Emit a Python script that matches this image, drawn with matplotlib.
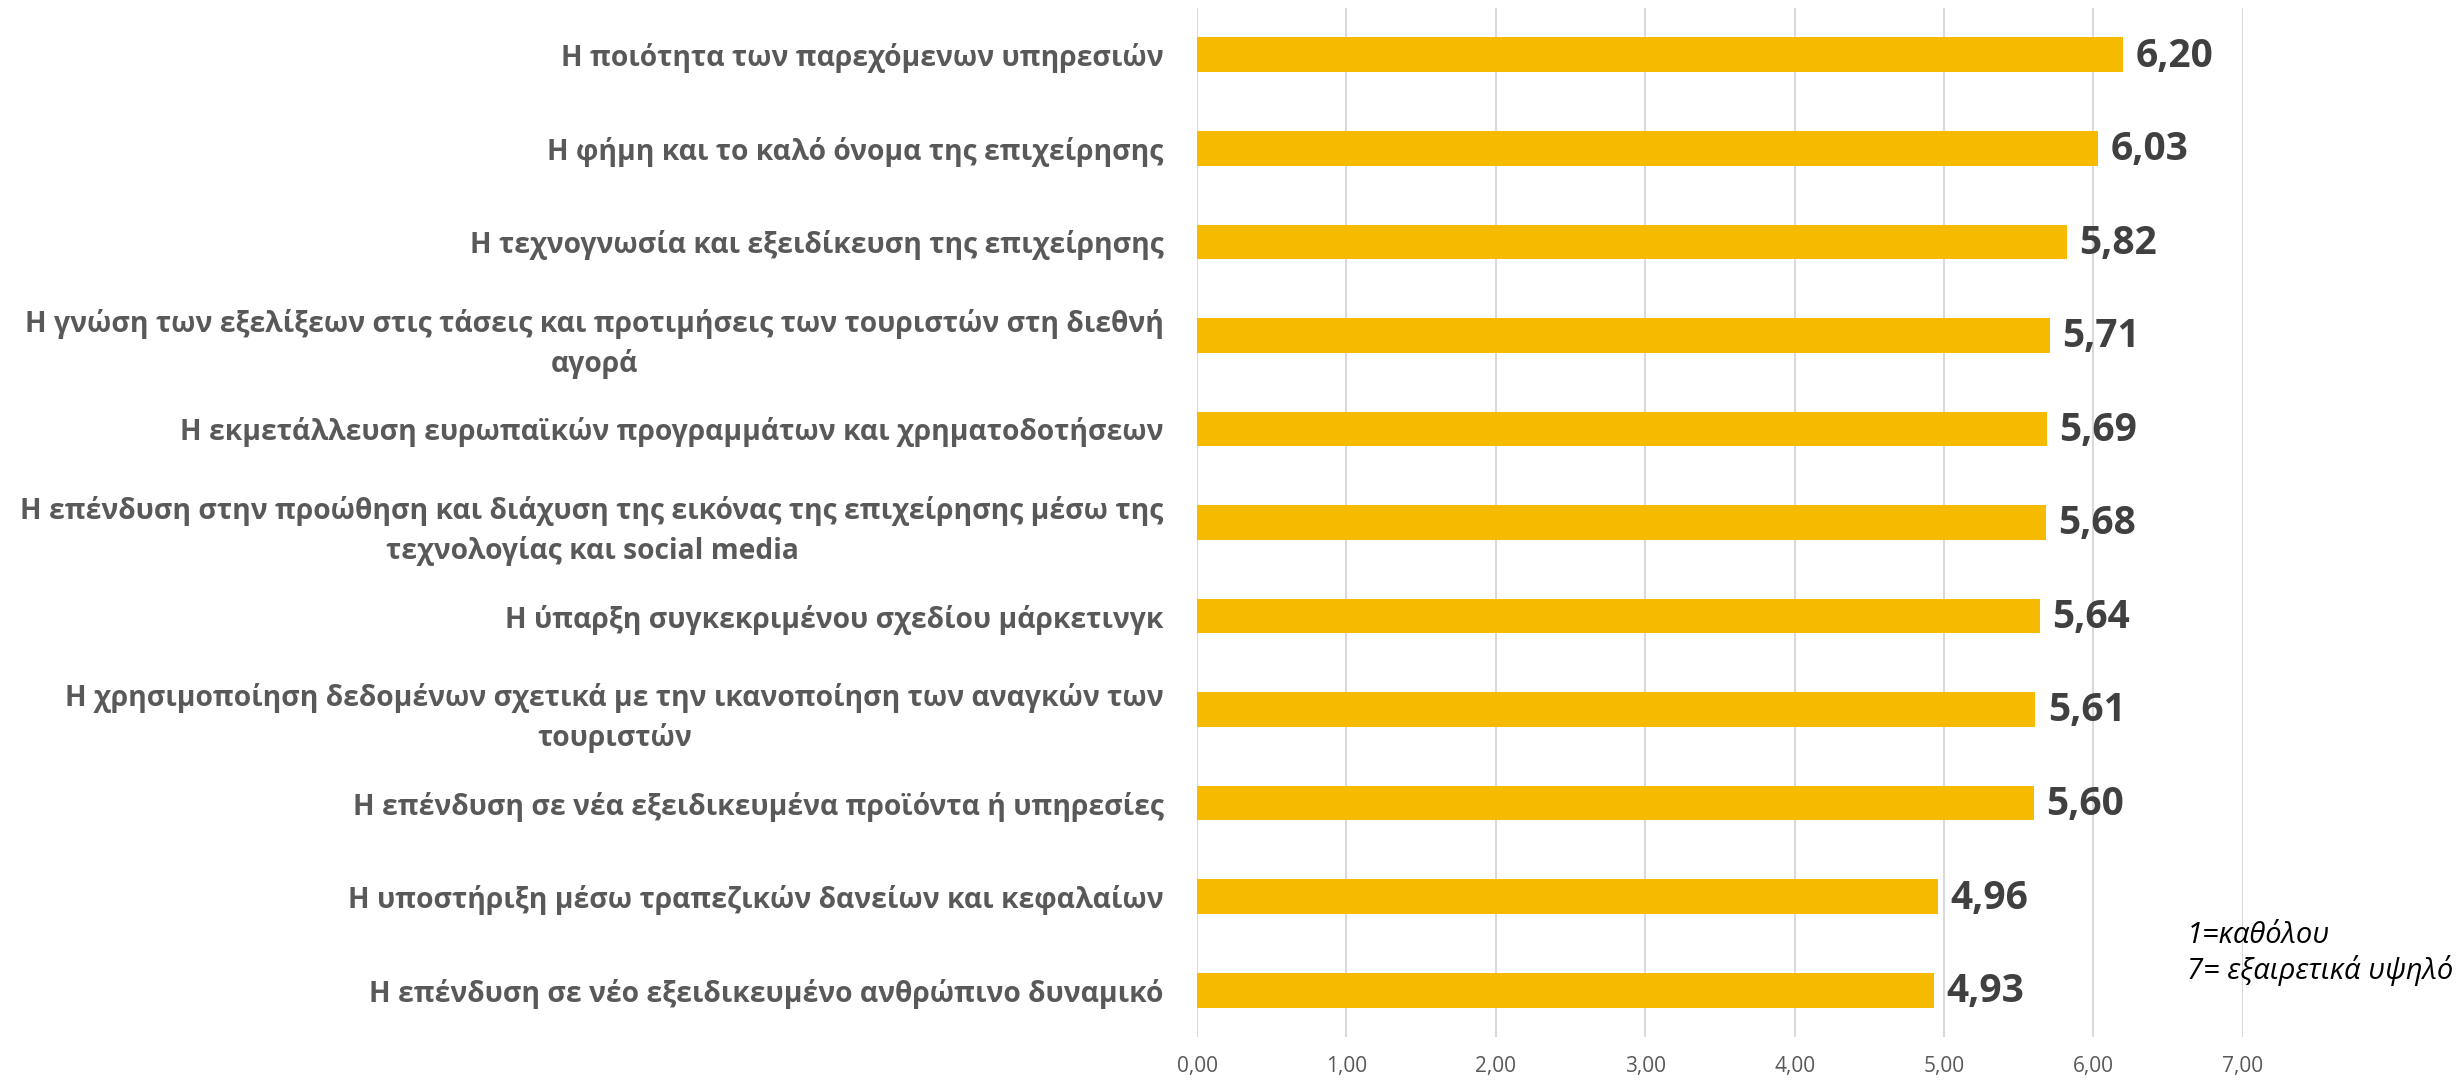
import matplotlib.pyplot as plt
import numpy as np

labels = [
    "Η ποιότητα των παρεχόμενων υπηρεσιών",
    "Η φήμη και το καλό όνομα της επιχείρησης",
    "Η τεχνογνωσία και εξειδίκευση της επιχείρησης",
    "Η γνώση των εξελίξεων στις τάσεις και προτιμήσεις των τουριστών στη διεθνή\nαγορά",
    "Η εκμετάλλευση ευρωπαϊκών προγραμμάτων και χρηματοδοτήσεων",
    "Η επένδυση στην προώθηση και διάχυση της εικόνας της επιχείρησης μέσω της\nτεχνολογίας και social media",
    "Η ύπαρξη συγκεκριμένου σχεδίου μάρκετινγκ",
    "Η χρησιμοποίηση δεδομένων σχετικά με την ικανοποίηση των αναγκών των\nτουριστών",
    "Η επένδυση σε νέα εξειδικευμένα προϊόντα ή υπηρεσίες",
    "Η υποστήριξη μέσω τραπεζικών δανείων και κεφαλαίων",
    "Η επένδυση σε νέο εξειδικευμένο ανθρώπινο δυναμικό",
]
values = [6.20, 6.03, 5.82, 5.71, 5.69, 5.68, 5.64, 5.61, 5.60, 4.96, 4.93]
xticks = [0, 1, 2, 3, 4, 5, 6, 7]
note = "1=καθόλου\n7= εξαιρετικά υψηλό"

plt.rcParams['font.family'] = ['Open Sans', 'DejaVu Sans']

fig = plt.figure(figsize=(24.63, 10.81), dpi=100)
ax = fig.add_axes([0.486, 0.0407, 0.4246, 0.9519])

y = np.arange(len(values))
ax.barh(y, values, height=0.37, color="#F6BB00", zorder=3)
ax.set_ylim(len(values) - 0.5, -0.5)
ax.set_xlim(0, 7)

ax.set_yticks(y)
ax.set_yticklabels(labels, fontsize=20.3, fontweight='bold', color="#595959",
                   multialignment='center', linespacing=1.45)
ax.tick_params(axis='y', length=0, pad=24)

ax.set_xticks(xticks)
ax.set_xticklabels([f"{t:.2f}".replace(".", ",") for t in xticks],
                   fontsize=15, color="#595959")
ax.tick_params(axis='x', length=0, pad=14)

ax.grid(axis='x', color="#D9D9D9", linewidth=1.5, zorder=0)
for s in ax.spines.values():
    s.set_visible(False)

for yi, v in zip(y, values):
    ax.annotate(f"{v:.2f}".replace(".", ","), (v, yi), xytext=(9, -1),
                textcoords='offset points', va='center', ha='left',
                fontsize=28, fontweight='bold', color="#404040")

fig.text(0.888, 0.118, note, fontsize=21, style='italic', color="black",
         va='center', ha='left', linespacing=1.2)

fig.savefig("out.png", dpi=100)
